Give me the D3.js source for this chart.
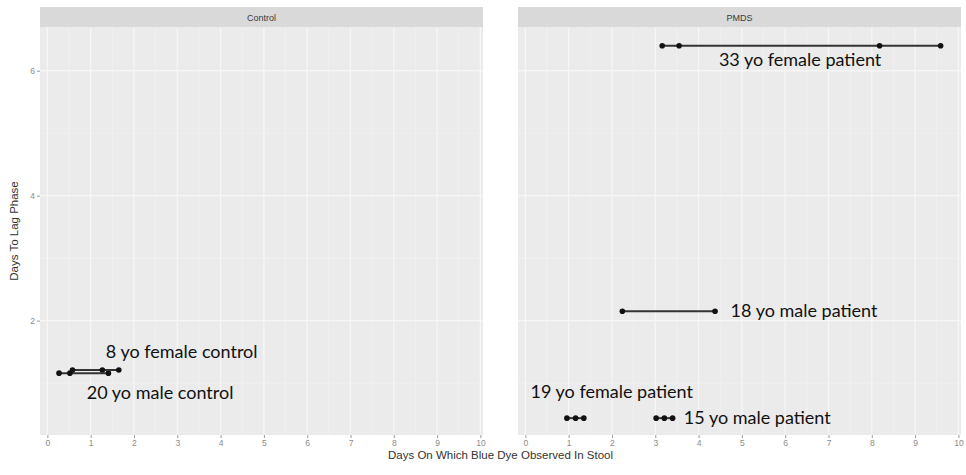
<!DOCTYPE html>
<meta charset="utf-8">
<script src="https://cdn.jsdelivr.net/npm/d3@7"></script>
<style>
body { margin: 0; background: #fff; }
text { font-family: "Liberation Sans", Arial, sans-serif; }
.note { font-family: Lato, "Open Sans", sans-serif; font-size: 18px; fill: #111; }
</style>
<body>
<script>

// facets
var facets = ["Control", "PMDS"];

// each subject: facet, days to lag phase, days on which blue dye was seen
var subjects = ["20 yo male control", "8 yo female control", "33 yo female patient",
                "18 yo male patient", "19 yo female patient", "15 yo male patient"];
var subjectFacet = ["Control", "Control", "PMDS", "PMDS", "PMDS", "PMDS"];
var lagDays = [1.16, 1.21, 6.4, 2.15, 0.44, 0.44];
var dyeDays = [
  [0.27, 0.52, 1.41],
  [0.58, 1.27, 1.65],
  [3.16, 3.55, 8.18, 9.59],
  [2.24, 4.38],
  [0.96, 1.16, 1.35],
  [3.02, 3.21, 3.40]
];

// where each label sits, in data units
var labelX = [0.91, 1.35, 4.47, 4.74, 0.12, 3.66];
var labelY = [0.74, 1.41, 6.08, 2.06, 0.77, 0.34];

var xTicks = [0, 1, 2, 3, 4, 5, 6, 7, 8, 9, 10];
var yTicks = [2, 4, 6];

var width = 966, height = 475;
var panelW = 443, panelTop = 27, panelBottom = 435;
var panelLeft = [40, 518];

var svg = d3.select("body").append("svg")
    .attr("width", width)
    .attr("height", height);

var x = d3.scaleLinear().domain([-0.17, 10.06]).range([0, panelW]);
var y = d3.scaleLinear().domain([0.17, 6.70]).range([panelBottom, panelTop]);

facets.forEach(function(f, fi) {
  var g = svg.append("g").attr("transform", "translate(" + panelLeft[fi] + ",0)");

  // strip
  g.append("rect")
      .attr("x", 0).attr("y", 7)
      .attr("width", panelW).attr("height", panelTop - 7)
      .attr("fill", "#d9d9d9");
  g.append("text")
      .attr("x", panelW / 2).attr("y", 20.5)
      .attr("text-anchor", "middle")
      .style("font-size", "9px")
      .attr("fill", "#3a3a3a")
      .text(f);

  // panel background
  g.append("rect")
      .attr("x", 0).attr("y", panelTop)
      .attr("width", panelW).attr("height", panelBottom - panelTop)
      .attr("fill", "#ebebeb");

  // minor grid
  var xMinor = xTicks.slice(0, -1).map(function(d) { return d + 0.5; });
  var yMinor = [1, 3, 5];
  g.selectAll(".vminor").data(xMinor).enter().append("line")
      .attr("x1", x).attr("x2", x)
      .attr("y1", panelTop).attr("y2", panelBottom)
      .attr("stroke", "#f1f1f1").attr("stroke-width", 0.8);
  g.selectAll(".hminor").data(yMinor).enter().append("line")
      .attr("x1", 0).attr("x2", panelW)
      .attr("y1", y).attr("y2", y)
      .attr("stroke", "#f1f1f1").attr("stroke-width", 0.8);

  // major grid
  g.selectAll(".vmajor").data(xTicks).enter().append("line")
      .attr("x1", x).attr("x2", x)
      .attr("y1", panelTop).attr("y2", panelBottom)
      .attr("stroke", "#f6f6f6").attr("stroke-width", 1.3);
  g.selectAll(".hmajor").data(yTicks).enter().append("line")
      .attr("x1", 0).attr("x2", panelW)
      .attr("y1", y).attr("y2", y)
      .attr("stroke", "#f6f6f6").attr("stroke-width", 1.3);

  // x axis
  var xa = g.append("g")
      .attr("transform", "translate(0," + panelBottom + ")")
      .call(d3.axisBottom(x).tickValues(xTicks).tickFormat(d3.format("d")).tickSize(3).tickPadding(2));
  xa.select(".domain").remove();
  xa.selectAll("line").attr("stroke", "#999");
  xa.selectAll("text").attr("fill", "#8a8a8a").style("font-size", "8.5px");

  // y axis only on first panel
  if (fi === 0) {
    var ya = g.append("g")
        .call(d3.axisLeft(y).tickValues(yTicks).tickFormat(d3.format("d")).tickSize(3).tickPadding(2));
    ya.select(".domain").remove();
    ya.selectAll("line").attr("stroke", "#999");
    ya.selectAll("text").attr("fill", "#8a8a8a").style("font-size", "8.5px");
  }

  // subjects in this facet
  subjects.forEach(function(s, i) {
    if (subjectFacet[i] !== f) return;
    var pts = dyeDays[i].map(function(d) { return [d, lagDays[i]]; });

    g.append("path")
        .datum(pts)
        .attr("fill", "none")
        .attr("stroke", "#333")
        .attr("stroke-width", 2)
        .attr("d", d3.line()
            .x(function(d) { return x(d[0]); })
            .y(function(d) { return y(d[1]); }));

    g.selectAll(null).data(pts).enter().append("circle")
        .attr("cx", function(d) { return x(d[0]); })
        .attr("cy", function(d) { return y(d[1]); })
        .attr("r", 2.8)
        .attr("fill", "#111");

    g.append("text")
        .attr("class", "note")
        .attr("x", x(labelX[i]))
        .attr("y", y(labelY[i]))
        .text(s);
  });
});

// axis titles
svg.append("text")
    .attr("x", (panelLeft[0] + panelLeft[1] + panelW) / 2)
    .attr("y", 459)
    .attr("text-anchor", "middle")
    .attr("fill", "#333")
    .style("font-size", "11.5px")
    .text("Days On Which Blue Dye Observed In Stool");

svg.append("text")
    .attr("transform", "translate(18," + (panelTop + panelBottom) / 2 + ") rotate(-90)")
    .attr("text-anchor", "middle")
    .attr("fill", "#333")
    .style("font-size", "11.5px")
    .text("Days To Lag Phase");

</script>
</body>
</html>
